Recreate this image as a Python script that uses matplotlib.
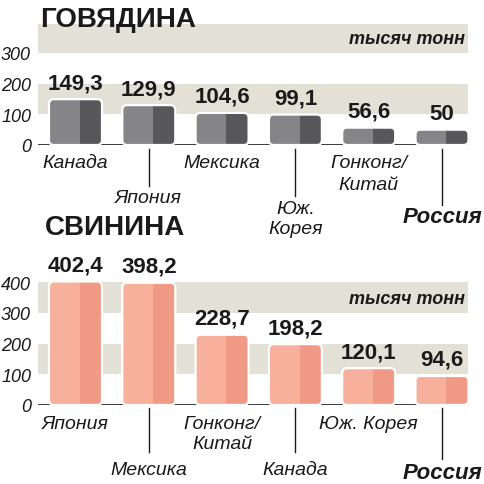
import matplotlib
matplotlib.use('Agg')
import matplotlib.pyplot as plt
from matplotlib.patches import FancyBboxPatch, Rectangle
from matplotlib.transforms import blended_transform_factory

plt.rcParams['font.family'] = ['Liberation Sans', 'DejaVu Sans']

# --- data (тысяч тонн)
beef_countries = ['Канада', 'Япония', 'Мексика', 'Юж.\nКорея', 'Гонконг/\nКитай', 'Россия']
beef_values = [149.3, 129.9, 104.6, 99.1, 56.6, 50]
beef_labels = ['149,3', '129,9', '104,6', '99,1', '56,6', '50']

pork_countries = ['Япония', 'Мексика', 'Гонконг/\nКитай', 'Канада', 'Юж. Корея', 'Россия']
pork_values = [402.4, 398.2, 228.7, 198.2, 120.1, 94.6]
pork_labels = ['402,4', '398,2', '228,7', '198,2', '120,1', '94,6']

beef_ticks = [0, 100, 200, 300]
pork_ticks = [0, 100, 200, 300, 400]

W, H = 484, 485
fig = plt.figure(figsize=(W/100, H/100), dpi=100)

XPX = 73.3      # px per category
YPX = 0.307     # px per unit
BAND = '#e3e0d6'
INK = '#1a1a1a'
xlim = ((38-75.5)/XPX, (468-75.5)/XPX)


def make_axes(base_px, top_px):
    ax = fig.add_axes([38/W, 1-base_px/H, 430/W, (base_px-top_px)/H])
    ax.set_xlim(*xlim)
    ax.set_ylim(0, (base_px-top_px)/YPX)
    for s in ax.spines.values():
        s.set_visible(False)
    ax.set_xticks([])
    ax.tick_params(axis='y', length=0, pad=5)
    ax.patch.set_alpha(0)
    return ax


def draw_bars(ax, values, light, dark):
    w = 53/XPX
    r = 5/XPX
    style = 'round,pad=0,rounding_size=%f' % r
    for i, v in enumerate(values):
        x0 = i - w/2
        body = FancyBboxPatch((x0, 0), w, v, boxstyle=style, mutation_aspect=XPX/YPX,
                              facecolor=dark, edgecolor='none', zorder=3)
        ax.add_patch(body)
        lt = Rectangle((x0, 0), w*0.58, v, facecolor=light, edgecolor='none', zorder=4)
        ax.add_patch(lt)
        lt.set_clip_path(body)
        edge = FancyBboxPatch((x0, 0), w, v, boxstyle=style, mutation_aspect=XPX/YPX,
                              facecolor='none', edgecolor='white', lw=1.6, zorder=5)
        ax.add_patch(edge)


def ypix(py):
    return 1 - py/H


def country_label(ax, tr, i, name, cap_top, line_end=None, line_start=None, spacing=1.3):
    bold = name == 'Россия'
    if line_end is not None:
        ax.plot([i, i], [ypix(line_start), ypix(line_end)], transform=tr, color=INK, lw=1, clip_on=False)
    ax.text(i, ypix(cap_top - 1), name, transform=tr, ha='center', va='top',
            fontsize=16 if bold else 14, style='italic', fontweight='bold' if bold else 'normal',
            linespacing=spacing, color=INK)


# ---------------- ГОВЯДИНА
ax1 = make_axes(146, 20)
ax1.axhspan(100, 200, color=BAND, lw=0, zorder=0)
ax1.axhspan(300, 393, color=BAND, lw=0, zorder=0)
ax1.axhline(0, color=INK, lw=1.2, zorder=1)
draw_bars(ax1, beef_values, '#858588', '#58585b')
ax1.set_yticks(beef_ticks)
ax1.set_yticklabels([str(t) for t in beef_ticks], fontsize=13, style='italic', color=INK)
for i, v in enumerate(beef_values):
    ax1.annotate(beef_labels[i], (i, v), xytext=(0, 6), textcoords='offset pixels',
                 ha='center', va='bottom', fontsize=16, fontweight='bold', color=INK, zorder=6)
fig.text(40/W, ypix(20), 'ГОВЯДИНА', fontsize=20, fontweight='bold', va='center', ha='left', color=INK)
fig.text(465/W, ypix(39), 'тысяч тонн', fontsize=13, fontweight='bold', style='italic',
         va='center', ha='right', color=INK)

tr1 = blended_transform_factory(ax1.transData, fig.transFigure)
country_label(ax1, tr1, 0, beef_countries[0], 156)
country_label(ax1, tr1, 1, beef_countries[1], 191, 187, 150)
country_label(ax1, tr1, 2, beef_countries[2], 156)
country_label(ax1, tr1, 3, beef_countries[3], 202, 197, 150, spacing=1.2)
country_label(ax1, tr1, 4, beef_countries[4], 156, spacing=1.35)
country_label(ax1, tr1, 5, beef_countries[5], 208, 206, 150)

# ---------------- СВИНИНА
ax2 = make_axes(406, 270)
ax2.axhspan(100, 200, color=BAND, lw=0, zorder=0)
ax2.axhspan(300, 400, color=BAND, lw=0, zorder=0)
ax2.axhline(0, color=INK, lw=1.2, zorder=1)
draw_bars(ax2, pork_values, '#f7b09c', '#f09a86')
ax2.set_yticks(pork_ticks)
ax2.set_yticklabels([str(t) for t in pork_ticks], fontsize=13, style='italic', color=INK)
for i, v in enumerate(pork_values):
    ax2.annotate(pork_labels[i], (i, v), xytext=(0, 6), textcoords='offset pixels',
                 ha='center', va='bottom', fontsize=16, fontweight='bold', color=INK, zorder=6)
fig.text(45/W, ypix(228), 'СВИНИНА', fontsize=20, fontweight='bold', va='center', ha='left', color=INK)
fig.text(465/W, ypix(300), 'тысяч тонн', fontsize=13, fontweight='bold', style='italic',
         va='center', ha='right', color=INK, zorder=2)

tr2 = blended_transform_factory(ax2.transData, fig.transFigure)
country_label(ax2, tr2, 0, pork_countries[0], 417)
country_label(ax2, tr2, 1, pork_countries[1], 463, 453, 409)
country_label(ax2, tr2, 2, pork_countries[2], 417, spacing=1.2)
country_label(ax2, tr2, 3, pork_countries[3], 463, 453, 409)
country_label(ax2, tr2, 4, pork_countries[4], 417)
country_label(ax2, tr2, 5, pork_countries[5], 464, 460, 409)

fig.savefig('out.png', dpi=100)
